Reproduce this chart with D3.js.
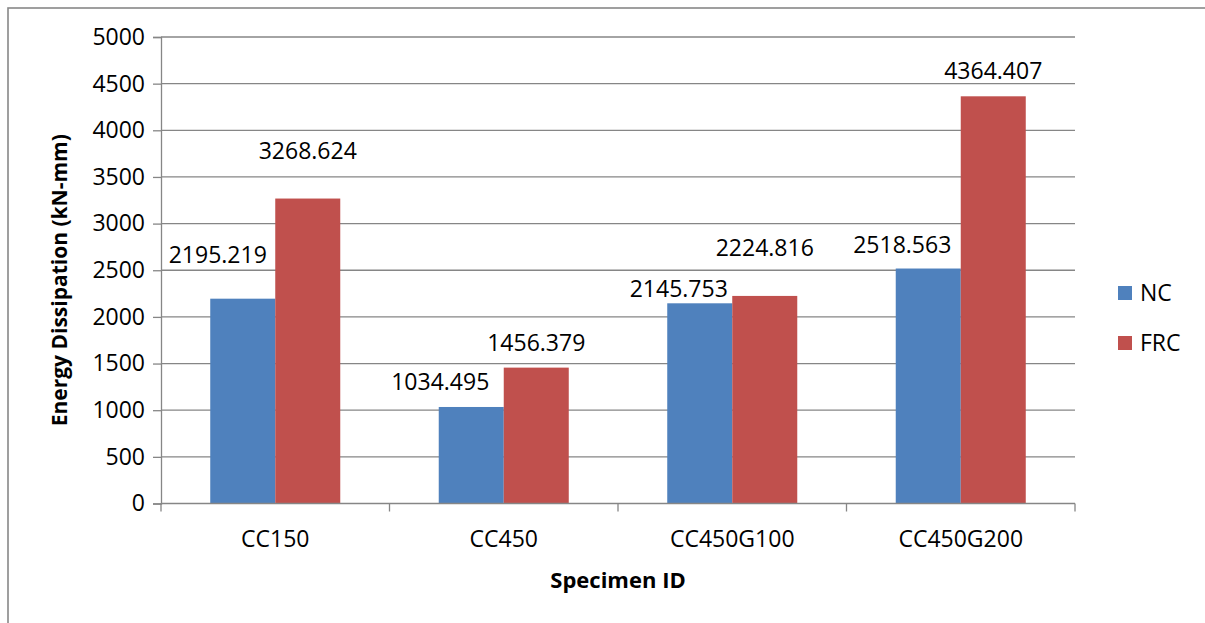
<!DOCTYPE html>
<html>
<head>
<meta charset="utf-8">
<script src="https://cdn.jsdelivr.net/npm/d3@7"></script>
<style>
  html, body { margin: 0; padding: 0; background: #fff; }
  svg { display: block; font-family: "Open Sans", "Noto Sans", sans-serif; }
</style>
</head>
<body>
<svg id="chart" width="1205" height="623"></svg>
<script>
// Specimen groups and energy dissipation per series (kN-mm)
const categories = ["CC150", "CC450", "CC450G100", "CC450G200"];
const seriesNames = ["NC", "FRC"];
const ncValues  = [2195.219, 1034.495, 2145.753, 2518.563];
const frcValues = [3268.624, 1456.379, 2224.816, 4364.407];
const yTicks = [0, 500, 1000, 1500, 2000, 2500, 3000, 3500, 4000, 4500, 5000];
const valueLabels = {
  NC:  ["2195.219", "1034.495", "2145.753", "2518.563"],
  FRC: ["3268.624", "1456.379", "2224.816", "4364.407"]
};

const seriesValues = { NC: ncValues, FRC: frcValues };
const colors = { NC: "#4F81BD", FRC: "#C0504D" };

// hand-placed data label nudges (px) relative to each bar's top centre
const labelNudge = {
  NC:  [[-25, -44], [-31, -25], [-21, -15], [-26, -23.5]],
  FRC: [[0, -47.5], [0, -24.6], [0, -48], [0, -25.5]]
};

const svg = d3.select("#chart");
const plot = { left: 161, right: 1075, top: 37, bottom: 503.5 };

// outer chart frame (its right and bottom edges fall outside the view)
svg.append("rect")
  .attr("x", 8).attr("y", 8).attr("width", 1220).attr("height", 640)
  .attr("fill", "none").attr("stroke", "#888").attr("stroke-width", 1.6);

const x = d3.scaleBand().domain(categories).range([plot.left, plot.right]).paddingInner(0).paddingOuter(0);
const groupPad = 0.2155; // gap on each side of a bar pair, as share of band
const xs = d3.scaleBand().domain(seriesNames)
  .range([x.bandwidth() * groupPad, x.bandwidth() * (1 - groupPad)]);
const y = d3.scaleLinear().domain([0, 5000]).range([plot.bottom, plot.top]);

// y axis with tick marks
const yAxis = d3.axisLeft(y).tickValues(yTicks).tickSize(8).tickFormat(d3.format("d")).tickPadding(8);
const yg = svg.append("g").attr("transform", `translate(${plot.left},0)`).call(yAxis);
yg.select(".domain").attr("stroke", "#868686").attr("stroke-width", 1.3);
yg.selectAll(".tick line").attr("stroke", "#868686").attr("stroke-width", 1.3);
yg.selectAll(".tick text").attr("font-size", 23).attr("fill", "#000")
  .attr("font-family", "'Open Sans', sans-serif");

// horizontal gridlines
svg.append("g").selectAll("line").data(yTicks.filter(d => d > 0)).join("line")
  .attr("x1", plot.left).attr("x2", plot.right)
  .attr("y1", d => y(d)).attr("y2", d => y(d))
  .attr("stroke", "#868686").attr("stroke-width", 1.3);

// bars
const groups = svg.append("g").selectAll("g").data(categories).join("g")
  .attr("transform", d => `translate(${x(d)},0)`);
groups.selectAll("rect")
  .data((c, i) => seriesNames.map(s => ({ s, v: seriesValues[s][i] })))
  .join("rect")
  .attr("x", d => xs(d.s))
  .attr("y", d => y(d.v))
  .attr("width", xs.bandwidth())
  .attr("height", d => y(0) - y(d.v))
  .attr("fill", d => colors[d.s]);

// x axis baseline with category ticks
const xAxis = d3.axisBottom(x).tickSize(0).tickPadding(0).tickFormat("");
const xg = svg.append("g").attr("transform", `translate(0,${plot.bottom})`).call(xAxis);
xg.select(".domain").remove();
xg.append("line").attr("x1", plot.left).attr("x2", plot.right)
  .attr("stroke", "#868686").attr("stroke-width", 1.3);
xg.selectAll("line.ctick").data(d3.range(categories.length + 1)).join("line")
  .attr("class", "ctick")
  .attr("x1", i => plot.left + i * x.bandwidth()).attr("x2", i => plot.left + i * x.bandwidth())
  .attr("y1", 0).attr("y2", 8)
  .attr("stroke", "#868686").attr("stroke-width", 1.3);
svg.append("g").selectAll("text").data(categories).join("text")
  .attr("x", d => x(d) + x.bandwidth() / 2)
  .attr("y", 538.5).attr("dy", "0.36em")
  .attr("text-anchor", "middle").attr("font-size", 23).attr("fill", "#000")
  .text(d => d);

// value labels
seriesNames.forEach(s => {
  svg.append("g").selectAll("text").data(categories).join("text")
    .attr("x", (c, i) => x(c) + xs(s) + xs.bandwidth() / 2 + labelNudge[s][i][0])
    .attr("y", (c, i) => y(seriesValues[s][i]) + labelNudge[s][i][1])
    .attr("dy", "0.36em")
    .attr("text-anchor", "middle").attr("font-size", 23).attr("fill", "#000")
    .text((c, i) => valueLabels[s][i]);
});

// axis titles
svg.append("text")
  .attr("transform", `translate(67,${(plot.top + plot.bottom) / 2 + 10}) rotate(-90)`)
  .attr("text-anchor", "middle").attr("font-size", 21).attr("font-weight", "bold")
  .attr("fill", "#000")
  .text("Energy Dissipation (kN-mm)");
svg.append("text")
  .attr("x", (plot.left + plot.right) / 2).attr("y", 588)
  .attr("text-anchor", "middle").attr("font-size", 22).attr("font-weight", "bold")
  .attr("fill", "#000")
  .text("Specimen ID");

// legend
const legend = svg.append("g").selectAll("g").data(seriesNames).join("g")
  .attr("transform", (d, i) => `translate(1118,${293 + i * 50})`);
legend.append("rect").attr("x", 0).attr("y", -7).attr("width", 14).attr("height", 14)
  .attr("fill", d => colors[d]);
legend.append("text").attr("x", 22).attr("y", 0).attr("dy", "0.36em")
  .attr("font-size", 23).attr("fill", "#000").text(d => d);
</script>
</body>
</html>
